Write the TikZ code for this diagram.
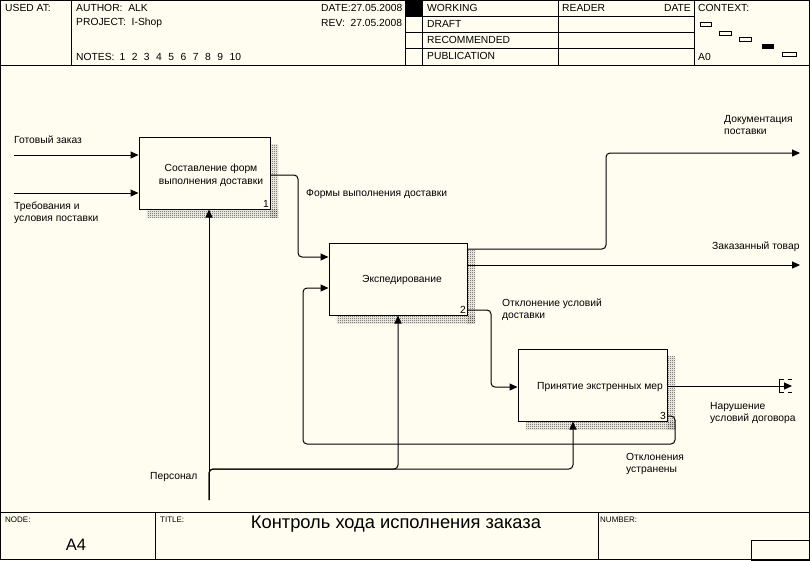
\documentclass[tikz,border=0pt]{standalone}
\usepackage{fontspec}
\setmainfont{Liberation Sans}
\usetikzlibrary{arrows.meta,patterns}
\definecolor{bg}{HTML}{FFFCF0}
\pgfdeclarepatternformonly{checkerfine}{\pgfpointorigin}{\pgfqpoint{2pt}{2pt}}{\pgfqpoint{2pt}{2pt}}{%
  \pgfpathrectangle{\pgfpointorigin}{\pgfqpoint{1pt}{1pt}}%
  \pgfpathrectangle{\pgfqpoint{1pt}{1pt}}{\pgfqpoint{1pt}{1pt}}%
  \pgfusepath{fill}}
\tikzset{
 lbl/.style={font=\fontsize{10.3}{12}\selectfont, anchor=west, inner sep=0pt, align=left},
 ctr/.style={font=\fontsize{10.3}{13}\selectfont, inner sep=0pt, align=center},
 small/.style={font=\fontsize{8}{10}\selectfont, anchor=west, inner sep=0pt},
 proc/.style={draw, line width=1pt, fill=bg, inner sep=0pt},
 num/.style={anchor=south east, inner sep=1.5pt, font=\fontsize{10.3}{12}\selectfont},
 arr/.style={line width=1pt, -{Triangle[length=8pt,width=7pt]}, rounded corners=4pt},
 shade/.style={pattern=checkerfine, pattern color=black!75},
 frame/.style={line width=1pt},
 ctxbox/.style={draw, line width=0.8pt, fill=bg},
}
\begin{document}
\begin{tikzpicture}[x=1pt,y=-1pt]
\useasboundingbox (0,0) rectangle (810,560);
\fill[bg] (0,0) rectangle (810,560);

% ---------- frame ----------
\draw[frame] (0.5,0.5) rectangle (809.5,559.5);
\draw[frame] (0,65) -- (810,65);
\draw[frame] (71,0) -- (71,65);
\draw[frame] (405,0) -- (405,65);
\draw[frame] (422,0) -- (422,65);
\draw[frame] (558,0) -- (558,65);
\draw[frame] (694,0) -- (694,65);
\draw[frame] (405,16) -- (694,16);
\draw[frame] (405,32) -- (694,32);
\draw[frame] (405,48) -- (694,48);
\fill[black] (405,0) rectangle (422,16);

\node[lbl] (usedat) at (5,8) {USED AT:};
\node[lbl] (author) at (76,8) {AUTHOR:\ \ ALK};
\node[lbl] (project) at (76,23) {PROJECT:\ \ I-Shop};
\node[lbl] (notes) at (76,57) {NOTES:\hspace{5pt}1\hspace{6.5pt}2\hspace{6.5pt}3\hspace{6.5pt}4\hspace{6.5pt}5\hspace{6.5pt}6\hspace{6.5pt}7\hspace{6.5pt}8\hspace{6.5pt}9\hspace{6.5pt}10};
\begin{scope}
\clip (300,0) rectangle (405,65);
\node[lbl] (date) at (321,8) {DATE:27.05.2008};
\node[lbl] (rev) at (321,23) {REV:\ \ 27.05.2008};
\end{scope}
\node[lbl] (working) at (427,8) {WORKING};
\node[lbl] (draft) at (427,24) {DRAFT};
\node[lbl] (recom) at (427,40) {RECOMMENDED};
\node[lbl] (publ) at (427,56) {PUBLICATION};
\node[lbl] (reader) at (562,8) {READER};
\node[lbl, anchor=east] (rdate) at (691,8) {DATE};
\node[lbl] (context) at (698,8) {CONTEXT:};
\node[lbl] (a0) at (698,57) {A0};
\draw[ctxbox] (700.5,22.5) rectangle (711.5,26.5);
\draw[ctxbox] (719.5,31.5) rectangle (731.5,35.5);
\draw[ctxbox] (739.5,37.5) rectangle (751.5,41.5);
\fill[black] (762,44) rectangle (774,49);
\draw[ctxbox] (782.5,52.5) rectangle (796.5,56.5);

% footer
\draw[frame] (0,512) -- (810,512);
\draw[frame] (155,512) -- (155,560);
\draw[frame] (598,512) -- (598,560);
\draw[frame] (751,540) rectangle (810,560);
\node[small] (nodel) at (5,520) {NODE:};
\node[small] (titlel) at (160,520) {TITLE:};
\node[small] (numberl) at (600,520) {NUMBER:};
\node[inner sep=0pt, font=\fontsize{18.3}{21}\selectfont] (title) at (396,524) {Контроль хода исполнения заказа};
\node[inner sep=0pt, font=\fontsize{16.5}{19}\selectfont] (nodeid) at (76,545) {A4};

% ---------- boxes ----------
\coordinate (b1c) at (204.5,173);
\coordinate (b2c) at (398,279);
\coordinate (b3c) at (592.5,385);
\node[minimum width=131pt, minimum height=72pt, inner sep=0pt] (box1) at (b1c) {};
\node[minimum width=138pt, minimum height=72pt, inner sep=0pt] (box2) at (b2c) {};
\node[minimum width=149pt, minimum height=72pt, inner sep=0pt] (box3) at (b3c) {};
\foreach \b in {box1,box2,box3}{
  \fill[shade] ([yshift=-8pt]\b.north east) rectangle ([shift={(8pt,-8pt)}]\b.south east);
  \fill[shade] ([xshift=8pt]\b.south west) rectangle ([shift={(8pt,-8pt)}]\b.south east);
}
\node[proc, minimum width=131pt, minimum height=72pt] (p1) at (b1c) {};
\node[proc, minimum width=138pt, minimum height=72pt] (p2) at (b2c) {};
\node[proc, minimum width=149pt, minimum height=72pt] (p3) at (b3c) {};
\node[ctr] (t1) at (211,175) {Составление форм\\выполнения доставки};
\node[ctr] (t2) at (402,280) {Экспедирование};
\node[ctr] (t3) at (600,387) {Принятие экстренных мер};
\node[num] (n1) at (p1.south east) {1};
\node[num] (n2) at (p2.south east) {2};
\node[num] (n3) at (p3.south east) {3};

% ---------- connectors ----------
\coordinate (in1) at (14,155);
\coordinate (in2) at (14,193);
\draw[arr] (in1) -- (in1 -| p1.west);
\draw[arr] (in2) -- (in2 -| p1.west);

\coordinate (f1) at (298,175);
\coordinate (f2) at (298,257);
\draw[arr] (p1.east |- f1) -- (f1) -- (f2) -- (p2.west |- f2);

\coordinate (d1) at (606,249);
\coordinate (d2) at (606,153);
\coordinate (dend) at (800,153);
\draw[arr] (p2.east |- d1) -- (d1) -- (d2) -- (dend);

\coordinate (zend) at (800,265);
\draw[arr] (p2.east |- zend) -- (zend);

\coordinate (k1) at (491,310);
\coordinate (k2) at (491,387);
\draw[arr] (p2.east |- k1) -- (k1) -- (k2) -- (p3.west |- k2);

\coordinate (nend) at (792,386);
\draw[arr] (p3.east |- nend) -- (nend);
\draw[line width=1pt] (783.5,379.5) -- (779.5,379.5) -- (779.5,392.5) -- (783.5,392.5);
\draw[line width=1pt] (787.5,379.5) -- (791.5,379.5);
\draw[line width=1pt] (787.5,392.5) -- (791.5,392.5);

\coordinate (l1) at (675,416);
\coordinate (l2) at (675,444);
\coordinate (l3) at (303,444);
\coordinate (l4) at (303,288);
\draw[arr] (p3.east |- l1) -- (l1) -- (l2) -- (l3) -- (l4) -- (p2.west |- l4);

\coordinate (m0) at (209,500);
\coordinate (m1) at (209,469);
\coordinate (m2) at (398,469);
\coordinate (m3) at (573,469);
\draw[arr] (m0) -- (p1.south -| m0);
\draw[arr] (m0) -- (m1) -- (m2) -- (p2.south -| m2);
\draw[arr] (m0) -- (m1) -- (m3) -- (p3.south -| m3);

% ---------- labels ----------
\node[lbl] (lin1) at (14,140) {Готовый заказ};
\node[lbl] (lin2) at (14,213) {Требования и\\условия поставки};
\node[lbl] (lf) at (306,194) {Формы выполнения доставки};
\node[lbl] (ld) at (724,125.5) {Документация\\поставки};
\node[lbl] (lz) at (712,247) {Заказанный товар};
\node[lbl] (lk) at (502,310) {Отклонение условий\\доставки};
\node[lbl] (ln) at (710,413) {Нарушение\\условий договора};
\node[lbl] (lo) at (626,464) {Отклонения\\устранены};
\node[lbl] (lm) at (150,477) {Персонал};
\end{tikzpicture}
\end{document}
